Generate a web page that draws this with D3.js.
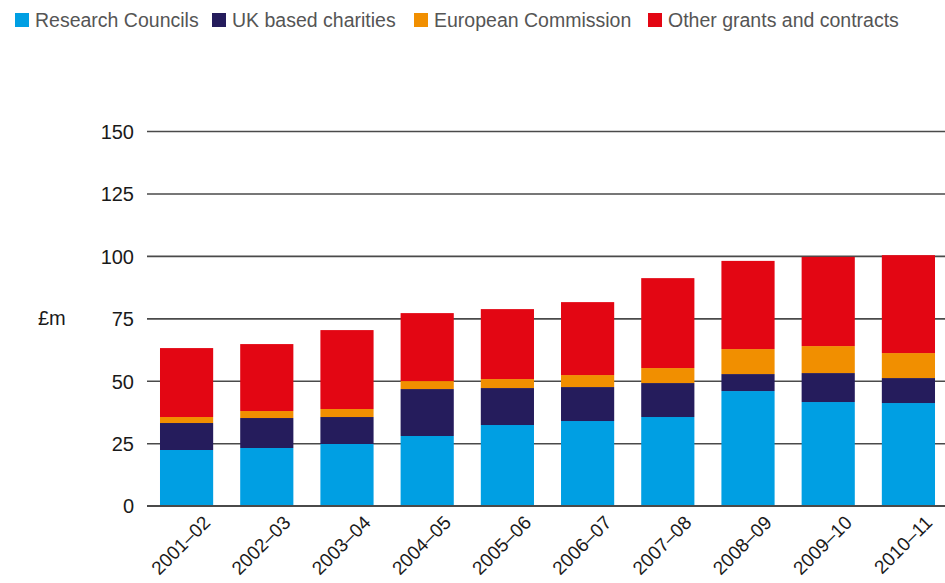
<!DOCTYPE html>
<html>
<head>
<meta charset="utf-8">
<script src="https://cdn.jsdelivr.net/npm/d3@7"></script>
<style>
  html, body { margin: 0; padding: 0; background: #fff; }
  svg { display: block; font-family: "Liberation Sans", Arial, sans-serif; }
</style>
</head>
<body>
<svg id="chart" width="945" height="583"></svg>
<script>
// Research income by source, £m
const years = ["2001–02", "2002–03", "2003–04", "2004–05", "2005–06",
               "2006–07", "2007–08", "2008–09", "2009–10", "2010–11"];
const researchCouncils = [22.3, 23.1, 24.7, 27.9, 32.3, 33.9, 35.5, 45.9, 41.5, 41.1];
const ukCharities      = [10.8, 12.0, 10.8, 18.8, 14.8, 13.6, 13.6, 6.8, 11.6, 10.0];
const europeanComm     = [2.4, 2.8, 3.2, 3.2, 3.6, 4.8, 6.0, 10.0, 10.8, 10.0];
const otherGrants      = [27.6, 26.8, 31.6, 27.2, 28.0, 29.2, 36.0, 35.3, 35.7, 39.2];
const seriesNames = ["Research Councils", "UK based charities", "European Commission", "Other grants and contracts"];
const seriesColors = ["#009fe3", "#251c5c", "#f18f00", "#e30613"];
const yTicks = [0, 25, 50, 75, 100, 125, 150];

const svg = d3.select("#chart");
const W = 945;

const keys = ["rc", "uk", "ec", "og"];
const rows = years.map((y, i) => ({
  year: y, rc: researchCouncils[i], uk: ukCharities[i], ec: europeanComm[i], og: otherGrants[i]
}));
const stacked = d3.stack().keys(keys)(rows);

const x = d3.scaleBand().domain(years).range([147, 948]).paddingInner(0.337).paddingOuter(0.162);
const y = d3.scaleLinear().domain([0, 150]).range([505.7, 131]);

// horizontal gridlines with tick labels
const yAxis = d3.axisLeft(y).tickValues(yTicks).tickSize(-(W - 147)).tickPadding(12);
const gy = svg.append("g").attr("transform", "translate(147,0)").call(yAxis);
gy.select(".domain").remove();
gy.selectAll(".tick line").attr("stroke", "#4a4a4a").attr("stroke-width", 1.6);
gy.selectAll(".tick text").attr("fill", "#1a1a1a").attr("font-size", 20).attr("x", -13).attr("dy", "0.36em");

// stacked bars
svg.append("g").selectAll("g").data(stacked).join("g")
  .attr("fill", (d, i) => seriesColors[i])
  .selectAll("rect").data(d => d).join("rect")
  .attr("x", d => x(d.data.year))
  .attr("width", x.bandwidth())
  .attr("y", d => y(d[1]))
  .attr("height", d => y(d[0]) - y(d[1]));

// baseline redrawn over the bars
svg.append("line")
  .attr("x1", 147).attr("x2", W)
  .attr("y1", y(0)).attr("y2", y(0))
  .attr("stroke", "#4a4a4a").attr("stroke-width", 1.6);

// category labels, rotated
svg.append("g").selectAll("text").data(years).join("text")
  .attr("transform", d => `translate(${x(d) + x.bandwidth() / 2 + 25},${y(0) + 18}) rotate(-45)`)
  .attr("text-anchor", "end")
  .attr("font-size", 19)
  .attr("fill", "#1a1a1a")
  .text(d => d);

// unit label
svg.append("text")
  .attr("x", 38).attr("y", y(75) + 7)
  .attr("font-size", 20).attr("fill", "#1a1a1a")
  .text("£m");

// legend
const legendX = [15, 212, 414, 648];
const lg = svg.append("g").selectAll("g").data(seriesNames).join("g")
  .attr("transform", (d, i) => `translate(${legendX[i]},0)`);
lg.append("rect").attr("x", 0).attr("y", 13).attr("width", 14).attr("height", 14)
  .attr("fill", (d, i) => seriesColors[i]);
lg.append("text").attr("x", 20).attr("y", 27)
  .attr("font-size", 19.5).attr("fill", "#555")
  .text(d => d);
</script>
</body>
</html>
